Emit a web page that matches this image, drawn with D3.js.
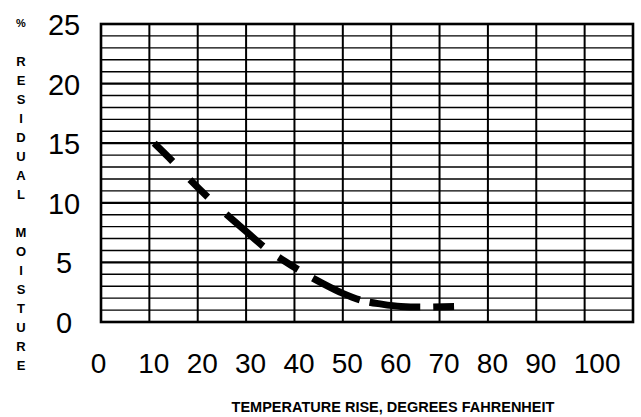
<!DOCTYPE html>
<html>
<head>
<meta charset="utf-8">
<script src="https://cdn.jsdelivr.net/npm/d3@7/dist/d3.min.js"></script>
<style>
  html, body { margin: 0; padding: 0; background: #fff; }
  svg { display: block; }
  text { font-family: "Liberation Sans", Arial, Helvetica, sans-serif; fill: #000; }
</style>
</head>
<body>
<svg id="chart" width="641" height="417"></svg>
<script>
// Tick labels
const xTickValues = [0, 10, 20, 30, 40, 50, 60, 70, 80, 90, 100];
const yTickValues = [0, 5, 10, 15, 20, 25];

// Drying curve: residual moisture (%) against temperature rise (°F)
const temperatureRise = [11, 15, 18.5, 22, 26, 30, 34, 38, 42, 46, 50, 54, 58, 62, 66, 73];
const residualMoisture = [15.0, 13.4, 11.9, 10.5, 9.0, 7.6, 6.2, 5.1, 4.1, 3.2, 2.4, 1.8, 1.5, 1.3, 1.25, 1.3];

// Axis titles
const yTitle = "% RESIDUAL MOISTURE";
const xTitle = "TEMPERATURE RISE, DEGREES FAHRENHEIT";

const svg = d3.select("#chart");
const margin = { left: 101, right: 8, top: 24, bottom: 95 };
const W = 641, H = 417;

const x = d3.scaleLinear().domain([0, 110]).range([margin.left, W - margin.right]);
const y = d3.scaleLinear().domain([0, 25]).range([H - margin.bottom, margin.top]);

// Grid: one horizontal rule per percent, one vertical rule per 10 °F
const grid = svg.append("g");
grid.selectAll("line.h")
  .data(d3.range(1, 25))
  .join("line")
  .attr("x1", x(0)).attr("x2", x(110))
  .attr("y1", d => y(d)).attr("y2", d => y(d))
  .attr("stroke", "#000")
  .attr("stroke-width", d => d % 5 === 0 ? 2.2 : 1.4);

grid.selectAll("line.v")
  .data(d3.range(10, 110, 10))
  .join("line")
  .attr("y1", y(0)).attr("y2", y(25))
  .attr("x1", d => x(d)).attr("x2", d => x(d))
  .attr("stroke", "#000")
  .attr("stroke-width", 2);

// Frame
svg.append("rect")
  .attr("x", x(0)).attr("y", y(25))
  .attr("width", x(110) - x(0)).attr("height", y(0) - y(25))
  .attr("fill", "none").attr("stroke", "#000").attr("stroke-width", 2.6);

// Y axis labels
const yAxis = d3.axisLeft(y).tickValues(yTickValues).tickSize(0).tickPadding(0);
const gy = svg.append("g").attr("transform", "translate(64,0)").call(yAxis);
gy.select(".domain").remove();
gy.selectAll("text")
  .attr("text-anchor", "middle")
  .attr("dy", "0.36em")
  .style("font-size", "29px");

// X axis labels
const xAxis = d3.axisBottom(x).tickValues(xTickValues).tickSize(0).tickPadding(0);
const gx = svg.append("g").attr("transform", "translate(0,373)").call(xAxis);
gx.select(".domain").remove();
gx.selectAll("text")
  .attr("dy", 0)
  .attr("dx", d => d === 0 ? -3 : d === 100 ? 12 : 4)
  .style("font-size", "28px");

// Vertical y title, one letter per row
svg.append("g").selectAll("text")
  .data(yTitle.split(""))
  .join("text")
  .attr("x", 21)
  .attr("y", (c, i) => 23 + i * 19)
  .attr("dy", "0.36em")
  .attr("text-anchor", "middle")
  .style("font-size", (c, i) => i === 0 ? "11px" : "13px")
  .style("font-weight", "bold")
  .text(c => c);

// X title
svg.append("text")
  .attr("x", 393).attr("y", 412)
  .attr("text-anchor", "middle")
  .style("font-size", "14.5px")
  .style("font-weight", "bold")
  .text(xTitle);

// Dashed curve
const pts = temperatureRise.map((t, i) => [t, residualMoisture[i]]);
const line = d3.line().x(d => x(d[0])).y(d => y(d[1])).curve(d3.curveMonotoneX);
svg.append("path")
  .attr("d", line(pts))
  .attr("fill", "none")
  .attr("stroke", "#000")
  .attr("stroke-width", 7)
  .attr("stroke-linecap", "butt")
  .attr("stroke-dasharray", "26,25,25,25,49,19,23,17,52,10,51,13,30");
</script>
</body>
</html>
